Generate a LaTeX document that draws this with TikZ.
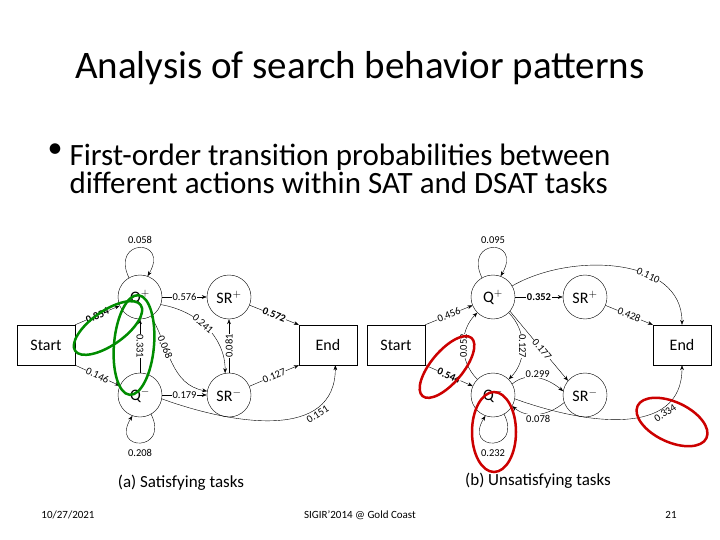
\documentclass[tikz,border=0pt]{standalone}
\usepackage{fontspec}
\setmainfont{Carlito}
\usetikzlibrary{arrows.meta}
\tikzset{
  state/.style={draw,circle,minimum size=44pt,inner sep=0pt,font=\fontsize{16}{16}\selectfont},
  term/.style={draw,minimum width=58pt,minimum height=40pt,font=\fontsize{16}{16}\selectfont},
  tr/.style={-{Stealth[length=5pt]},thin},
  lab/.style={font=\fontsize{10.5}{10.5}\selectfont,fill=white,inner sep=0.5pt},
  ring/.style={line width=2.5pt}
}
\begin{document}
\begin{tikzpicture}[x=1pt,y=-1pt]
\useasboundingbox (0,0) rectangle (720,540);
\node (title) at (360,68) {\fontsize{39}{39}\selectfont Analysis of search behavior patterns};
\node[anchor=west] (dot) at (44,151) {\fontsize{30}{30}\selectfont\textbullet};
\node[anchor=west,align=left] (bullet) at (66,169) {\fontsize{31}{36}\selectfont First-order transition probabilities between\\
\fontsize{31}{36}\selectfont different actions within SAT and DSAT tasks};

% (a) satisfying
\node[term] (sa) at (46,345) {Start};
\node[state] (qpa) at (140,297) {Q$^{+}$};
\node[state] (qma) at (140,395) {Q$^{-}$};
\node[state] (spa) at (229,297) {SR$^{+}$};
\node[state] (sma) at (229,395) {SR$^{-}$};
\node[term] (ea) at (328,345) {End};
\draw[tr] (qpa.120) .. controls (110,238) and (170,238) .. (qpa.70);
\node[lab] (l1) at (140,240) {0.058};
\draw[tr] (qma.-60) .. controls (170,452) and (110,452) .. (qma.-110);
\node[lab] (l2) at (140,453) {0.208};
\draw[tr] (sa.north east) -- node[lab,sloped] {\bfseries 0.854} (qpa);
\draw[tr] (sa.south east) -- node[lab,sloped] {0.146} (qma);
\draw[tr] (qma) -- node[lab,rotate=-90] {0.331} (qpa);
\draw[tr] (qpa) -- node[lab] {0.576} (spa);
\draw[tr] (qma) -- node[lab] {0.179} (sma);
\draw[tr] (sma) -- node[lab,sloped] {0.081} (spa);
\draw[tr] (qpa.-20) to[out=-10,in=90] node[lab,sloped,pos=0.45] {0.241} (sma.100);
\draw[tr] (qpa.-60) to[out=-60,in=170] node[lab,sloped,pos=0.32] {0.068} (sma.170);
\draw[tr] (spa) -- node[lab,sloped] {\bfseries 0.572} (ea.north west);
\draw[tr] (sma) -- node[lab,sloped] {0.127} (ea.south west);
\draw[tr] (qma.-10) to[out=-20,in=-90,looseness=1.1] node[lab,sloped,pos=0.72,below=2pt] {0.151} (ea.-70);
\draw[ring,green!55!black] (108,328) ellipse[x radius=40pt,y radius=17pt,rotate=35];
\draw[ring,green!55!black] (134,345) ellipse[x radius=20pt,y radius=50pt,rotate=-5];
\node (capa) at (181,483) {\fontsize{17}{17}\selectfont (a) Satisfying tasks};

% (b) unsatisfying
\node[term] (sb) at (396,345) {Start};
\node[state] (qpb) at (493,297) {Q$^{+}$};
\node[state] (qmb) at (493,395) {Q$^{-}$};
\node[state] (spb) at (585,297) {SR$^{+}$};
\node[state] (smb) at (585,395) {SR$^{-}$};
\node[term] (eb) at (682,345) {End};
\draw[tr] (qpb.120) .. controls (463,238) and (523,238) .. (qpb.70);
\node[lab] (l3) at (493,240) {0.095};
\draw[tr] (qmb.-60) .. controls (523,452) and (463,452) .. (qmb.-110);
\node[lab] (l4) at (493,453) {0.232};
\draw[tr] (sb.north east) -- node[lab,sloped] {0.456} (qpb);
\draw[tr] (sb.south east) -- node[lab,sloped] {\bfseries 0.544} (qmb);
\draw[tr] (qmb.135) to[bend left=45] node[lab,rotate=90] {0.052} (qpb.-135);
\draw[tr] (qpb.-45) to[bend left=45] node[lab,rotate=-90] {0.127} (qmb.45);
\draw[tr] (qpb) -- node[lab] {\bfseries 0.352} (spb);
\draw[tr] (qpb.-40) -- node[lab,sloped,pos=0.55] {0.177} (smb.140);
\draw[tr] (spb) -- node[lab,sloped] {0.428} (eb.north west);
\draw[tr] (qmb.30) to[out=40,in=140] node[lab,above] {0.299} (smb.170);
\draw[tr] (smb.-160) to[out=-140,in=-40] node[lab,below] {0.078} (qmb.-30);
\draw[tr] (qpb.30) to[out=30,in=90,looseness=1] node[lab,sloped,pos=0.65] {0.110} (eb.north);
\draw[tr] (qmb.-10) to[out=-20,in=-90,looseness=1.1] node[lab,sloped,pos=0.72,below=2pt] {0.334} (eb.south);
\draw[ring,red!80!black] (447,367) ellipse[x radius=38pt,y radius=16pt,rotate=50];
\draw[ring,red!80!black] (494,432) ellipse[x radius=22pt,y radius=40pt];
\draw[ring,red!80!black] (672,422) ellipse[x radius=38pt,y radius=20pt,rotate=-25];
\node (capb) at (538,481) {\fontsize{17}{17}\selectfont (b) Unsatisfying tasks};

% footer
\node (date) at (68,515) {\fontsize{11}{11}\selectfont 10/27/2021};
\node (conf) at (360,515) {\fontsize{11}{11}\selectfont SIGIR'2014 @ Gold Coast};
\node (page) at (671,515) {\fontsize{11}{11}\selectfont 21};
\end{tikzpicture}
\end{document}
